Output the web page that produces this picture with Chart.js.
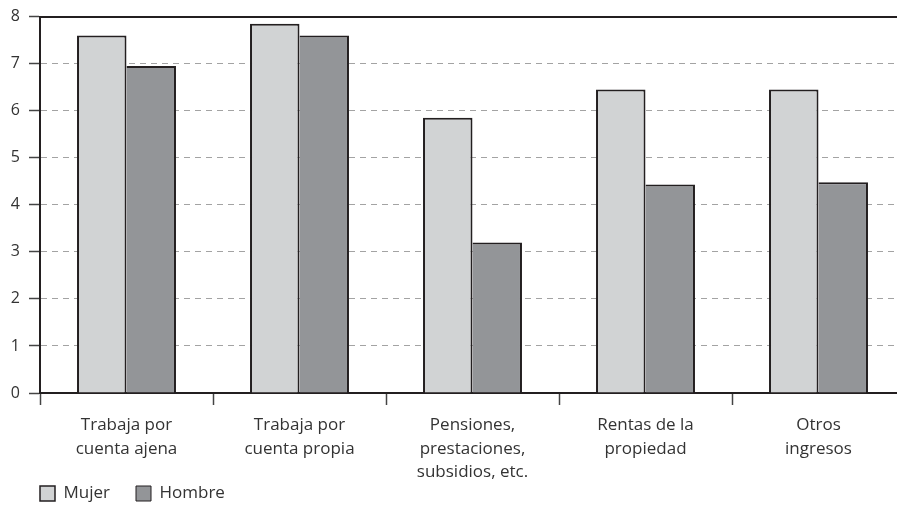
<!DOCTYPE html>
<html>
<head>
<meta charset="utf-8">
<script src="https://cdn.jsdelivr.net/npm/chart.js@4/dist/chart.umd.min.js"></script>
<style>
    html, body { margin: 0; padding: 0; background: #fff; overflow: hidden; }
    #wrap { width: 905px; height: 505px; }
</style>
</head>
<body>
<div id="wrap"><canvas id="barChart" width="905" height="505"></canvas></div>
<script>
// ── Datos ──────────────────────────────────────────────
const categories = [
    ['Trabaja por', 'cuenta ajena'],
    ['Trabaja por', 'cuenta propia'],
    ['Pensiones,', 'prestaciones,', 'subsidios, etc.'],
    ['Rentas de la', 'propiedad'],
    ['Otros', 'ingresos']
];
const mujer = [7.6, 7.85, 5.85, 6.45, 6.45];
const hombre = [6.95, 7.6, 3.2, 4.43, 4.48];
const yTicks = [0, 1, 2, 3, 4, 5, 6, 7, 8];

// ── Estilos ────────────────────────────────────────────
const INK = '#231f20';
const TEXT = '#333';
const GRID = '#a3a3a3';
const FONT = "'Open Sans', sans-serif";

// Coloca la leyenda alineada con el eje y, bajo las etiquetas
const legendShift = {
    id: 'legendShift',
    afterLayout(chart) {
        const lg = chart.legend;
        const pad = lg.options.labels.padding;
        lg.left = 40 - pad;
        lg.top = 485 - pad;
        lg.bottom = chart.height;
        lg.height = lg.bottom - lg.top;
    }
};

new Chart(document.getElementById('barChart'), {
    type: 'bar',
    data: {
        labels: categories,
        datasets: [
            {
                label: 'Mujer',
                data: mujer,
                backgroundColor: '#d1d3d4',
                borderColor: INK,
                borderWidth: { top: 2, left: 2, right: 2, bottom: 0 }
            },
            {
                label: 'Hombre',
                data: hombre,
                backgroundColor: '#939598',
                borderColor: INK,
                // el borde izquierdo lo pone la barra de al lado
                borderWidth: { top: 2, left: 0, right: 2, bottom: 0 }
            }
        ]
    },
    options: {
        responsive: false,
        animation: false,
        categoryPercentage: 0.572,
        barPercentage: 1,
        layout: { padding: { top: 13, left: 0, right: 0, bottom: 0 } },
        plugins: {
            tooltip: { enabled: false },
            legend: {
                position: 'bottom',
                align: 'start',
                maxHeight: 20,
                labels: {
                    boxWidth: 15,
                    boxHeight: 15,
                    padding: 26,
                    color: TEXT,
                    font: { family: FONT, size: 17 }
                }
            }
        },
        scales: {
            x: {
                grid: {
                    offset: true,
                    drawOnChartArea: false,
                    tickLength: 12,
                    tickColor: '#444',
                    tickWidth: 1.5
                },
                border: { color: INK, width: 2 },
                ticks: {
                    color: TEXT,
                    padding: 9,
                    autoSkip: false,
                    maxRotation: 0,
                    font: { family: FONT, size: 17, lineHeight: 1.36 }
                },
                afterFit: s => { s.height = 92; }
            },
            xTop: {
                type: 'category',
                position: 'top',
                labels: categories,
                grid: { display: false },
                ticks: { display: false },
                border: { color: INK, width: 2 },
                afterFit: s => { s.height = 0; }
            },
            y: {
                min: 0,
                max: 8,
                afterBuildTicks: s => { s.ticks = yTicks.map(v => ({ value: v })); },
                grid: {
                    color: ctx => (ctx.tick && (ctx.tick.value === 0 || ctx.tick.value === 8)) ? 'rgba(0,0,0,0)' : GRID,
                    lineWidth: 1,
                    tickLength: 11,
                    tickColor: '#444',
                    tickWidth: 1.5,
                    tickBorderDash: []
                },
                border: { color: INK, width: 2, dash: [6, 5] },
                ticks: {
                    color: TEXT,
                    padding: 9,
                    font: { family: FONT, size: 16, lineHeight: 0.95 }
                },
                afterFit: s => { s.width = 40; }
            }
        }
    },
    plugins: [legendShift]
});
</script>
</body>
</html>
